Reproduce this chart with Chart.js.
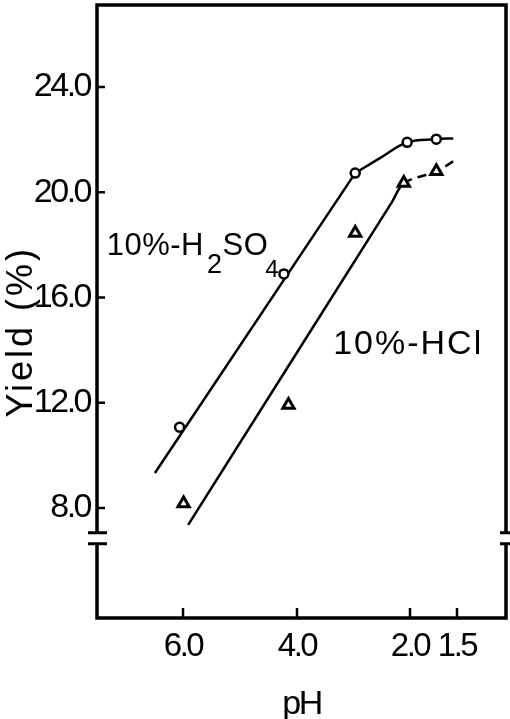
<!DOCTYPE html>
<html><head><meta charset="utf-8">
<script src="https://cdn.jsdelivr.net/npm/chart.js@4.4.1/dist/chart.umd.min.js"></script>
<style>html,body{margin:0;padding:0;background:#fff;overflow:hidden}#wrap{width:510px;height:719px;position:relative}</style>
</head><body><div id="wrap"><canvas id="c"></canvas></div>
<script>
// ---- data ----
const phH2SO4      = [6.06, 4.23, 2.97, 2.05, 1.72];
const yieldH2SO4   = [11.07, 16.9, 20.73, 21.9, 22.02];
const phHCl        = [5.99, 4.15, 2.97, 2.11, 1.72];
const yieldHCl     = [8.17, 11.92, 18.45, 20.35, 20.8];
// fitted curve for H2SO4: straight part, then levelling-off arc
const fitPhH2SO4a  = [6.49, 2.97];
const fitYH2SO4a   = [9.33, 20.73];
const fitPhH2SO4b  = [2.97, 2.51, 2.05, 1.72, 1.54];
const fitYH2SO4b   = [20.73, 21.33, 21.9, 22.02, 22.05];
// fitted curve for HCl: straight part (solid), then dashed extension
const fitPhHCl     = [5.91, 2.32, 2.11, 1.72, 1.52];
const fitYHCl      = [7.36, 19.63, 20.35, 20.8, 21.22];
const xTicks       = [6.0, 4.0, 2.0, 1.5];
const yTicks       = [8.0, 12.0, 16.0, 20.0, 24.0];
const xTitle       = 'pH';
const yTitle       = 'Yield (%)';
const labelA       = ['10%-H', '2', 'SO', '4'];
const labelB       = '10%-HCl';

// ---- pH axis: piecewise-linear scale as printed in the figure ----
const PH_KNOTS  = [7.5, 6, 4, 2, 1.5, 1.0];
const DEC_KNOTS = [0, 0.2103, 0.4890, 0.7653, 0.8802, 1];
function phToDec(v){
  for (let i=0;i<PH_KNOTS.length-1;i++){
    const a=PH_KNOTS[i], b=PH_KNOTS[i+1];
    if ((v<=a && v>=b) || i===PH_KNOTS.length-2){
      return DEC_KNOTS[i] + (a-v)/(a-b)*(DEC_KNOTS[i+1]-DEC_KNOTS[i]);
    }
  }
  return 0;
}
function decToPh(d){
  for (let i=0;i<DEC_KNOTS.length-1;i++){
    if ((d>=DEC_KNOTS[i] && d<=DEC_KNOTS[i+1]) || i===DEC_KNOTS.length-2){
      return PH_KNOTS[i] + (d-DEC_KNOTS[i])/(DEC_KNOTS[i+1]-DEC_KNOTS[i])*(PH_KNOTS[i+1]-PH_KNOTS[i]);
    }
  }
  return 0;
}
class PhScale extends Chart.LinearScale {
  getPixelForValue(v){
    if (v===null || v===undefined || isNaN(v)) return NaN;
    return this.getPixelForDecimal(phToDec(v));
  }
  getValueForPixel(p){ return decToPh(this.getDecimalForPixel(p)); }
}
PhScale.id = 'phscale';
PhScale.defaults = Chart.LinearScale.defaults;
Chart.register(PhScale);

const BREAK_HI = 7.06, BREAK_LO = 6.64;
const TICK_FONT = "'Liberation Sans','DejaVu Sans',sans-serif";
const TEXT_FONT = "'Liberation Sans','DejaVu Sans',sans-serif";

const pts = (xs, ys) => xs.map((x,i)=>({x, y: ys[i]}));
const noPad = s => { s.paddingLeft = 0; s.paddingRight = 0; s.paddingTop = 0; s.paddingBottom = 0; };

const framePlugin = {
  id: 'frame',
  beforeDraw(chart){ chart.ctx.letterSpacing = '-2.5px'; },
  afterDatasetsDraw(chart){
    const {ctx, scales:{x, y}} = chart;
    ctx.save();
    ctx.fillStyle = '#000';
    ctx.textBaseline = 'alphabetic';
    ctx.textAlign = 'left';
    // H2SO4 label
    let px = x.getPixelForValue(7.33), py = y.getPixelForValue(17.6);
    ctx.font = "31px " + TEXT_FONT;
    ctx.letterSpacing = '0.5px';
    ctx.fillText(labelA[0], px, py); px += ctx.measureText(labelA[0]).width + 3;
    ctx.font = "27px " + TEXT_FONT;
    ctx.fillText(labelA[1], px, py + 18); px += ctx.measureText(labelA[1]).width;
    ctx.font = "31px " + TEXT_FONT;
    ctx.fillText(labelA[2], px, py); px += ctx.measureText(labelA[2]).width - 3;
    ctx.font = "24px " + TEXT_FONT;
    ctx.fillText(labelA[3], px, py + 22);
    // HCl label
    ctx.font = "34px " + TEXT_FONT;
    ctx.letterSpacing = '2px';
    ctx.fillText(labelB, x.getPixelForValue(3.36), y.getPixelForValue(13.85));
    ctx.restore();
  },
  afterDraw(chart){
    const {ctx, chartArea:a, scales:{x, y}} = chart;
    ctx.save();
    // y title
    ctx.font = "36px " + TEXT_FONT;
    ctx.letterSpacing = '3px';
    ctx.fillStyle = '#000';
    ctx.textAlign = 'center';
    ctx.textBaseline = 'middle';
    ctx.translate(22, y.getPixelForValue(14.7));
    ctx.rotate(-Math.PI/2);
    ctx.fillText(yTitle, 0, 0);
    ctx.restore();

    ctx.save();
    ctx.strokeStyle = '#000';
    ctx.lineJoin = 'miter';
    ctx.lineWidth = 3.5;
    const b1 = y.getPixelForValue(BREAK_HI), b2 = y.getPixelForValue(BREAK_LO);
    ctx.beginPath();
    ctx.moveTo(a.left, b1); ctx.lineTo(a.left, a.top); ctx.lineTo(a.right, a.top); ctx.lineTo(a.right, b1);
    ctx.moveTo(a.right, b2); ctx.lineTo(a.right, a.bottom); ctx.lineTo(a.left, a.bottom); ctx.lineTo(a.left, b2);
    ctx.stroke();
    // break bars
    ctx.lineWidth = 3;
    ctx.beginPath();
    [b1, b2].forEach(b => {
      ctx.moveTo(a.left - 9, b); ctx.lineTo(a.left + 10, b);
      ctx.moveTo(a.right - 6, b); ctx.lineTo(a.right + 6, b);
    });
    ctx.stroke();
    // inward ticks
    ctx.lineWidth = 2.5;
    ctx.beginPath();
    y.ticks.forEach(t => { const p = y.getPixelForValue(t.value); ctx.moveTo(a.left, p); ctx.lineTo(a.left + 8, p); });
    x.ticks.forEach(t => { const p = x.getPixelForValue(t.value); ctx.moveTo(p, a.bottom); ctx.lineTo(p, a.bottom - 10); });
    ctx.stroke();
    ctx.restore();
  }
};

const lineStyle = { order: 1, showLine: true, pointRadius: 0, borderColor: '#000', borderWidth: 2.5 };

new Chart(document.getElementById('c'), {
  type: 'scatter',
  data: {
    datasets: [
      { label: '10%-H2SO4', data: pts(phH2SO4, yieldH2SO4), order: 0, showLine: false,
        pointStyle: 'circle', pointRadius: 4.5, borderWidth: 2.5,
        borderColor: '#000', backgroundColor: '#fff', pointBackgroundColor: '#fff', pointBorderColor: '#000' },
      { label: '10%-HCl', data: pts(phHCl, yieldHCl), order: 0, showLine: false,
        pointStyle: 'triangle', pointRadius: 6.5, borderWidth: 3,
        borderColor: '#000', backgroundColor: '#fff', pointBackgroundColor: '#fff', pointBorderColor: '#000' },
      { ...lineStyle, label: 'fit H2SO4 (linear)', data: pts(fitPhH2SO4a, fitYH2SO4a), tension: 0 },
      { ...lineStyle, label: 'fit H2SO4 (plateau)', data: pts(fitPhH2SO4b, fitYH2SO4b), tension: 0.4 },
      { ...lineStyle, label: 'fit HCl', data: pts(fitPhHCl, fitYHCl), tension: 0.3,
        segment: { borderDash: ctx => ctx.p0.parsed.x < 2.2 ? [9, 6] : undefined } }
    ]
  },
  options: {
    responsive: true, maintainAspectRatio: false, animation: false,
    layout: { autoPadding: false, padding: { top: 5, right: 4, left: 0, bottom: 0 } },
    plugins: { legend: { display: false }, tooltip: { enabled: false } },
    scales: {
      x: {
        type: 'phscale', min: 1.0, max: 7.5,
        afterFit: s => { s.height = 101; noPad(s); },
        afterBuildTicks: s => { s.ticks = xTicks.map(v => ({ value: v })); },
        grid: { display: false, drawTicks: false },
        border: { display: false },
        ticks: { autoSkip: false, maxRotation: 0, padding: 9, color: '#000',
          font: { family: TICK_FONT, size: 33 }, callback: v => Number(v).toFixed(1) },
        title: { display: true, text: xTitle, color: '#000', padding: 0,
          font: { family: TEXT_FONT, size: 34, lineHeight: 0.85 } }
      },
      y: {
        type: 'linear', min: 3.82, max: 27.12,
        afterFit: s => { s.width = 97; noPad(s); },
        afterBuildTicks: s => { s.ticks = yTicks.map(v => ({ value: v })); },
        grid: { display: false, drawTicks: false },
        border: { display: false },
        ticks: { autoSkip: false, padding: 7, color: '#000',
          font: { family: TICK_FONT, size: 34 }, callback: v => Number(v).toFixed(1) }
      }
    }
  },
  plugins: [framePlugin]
});
</script>
</body></html>
